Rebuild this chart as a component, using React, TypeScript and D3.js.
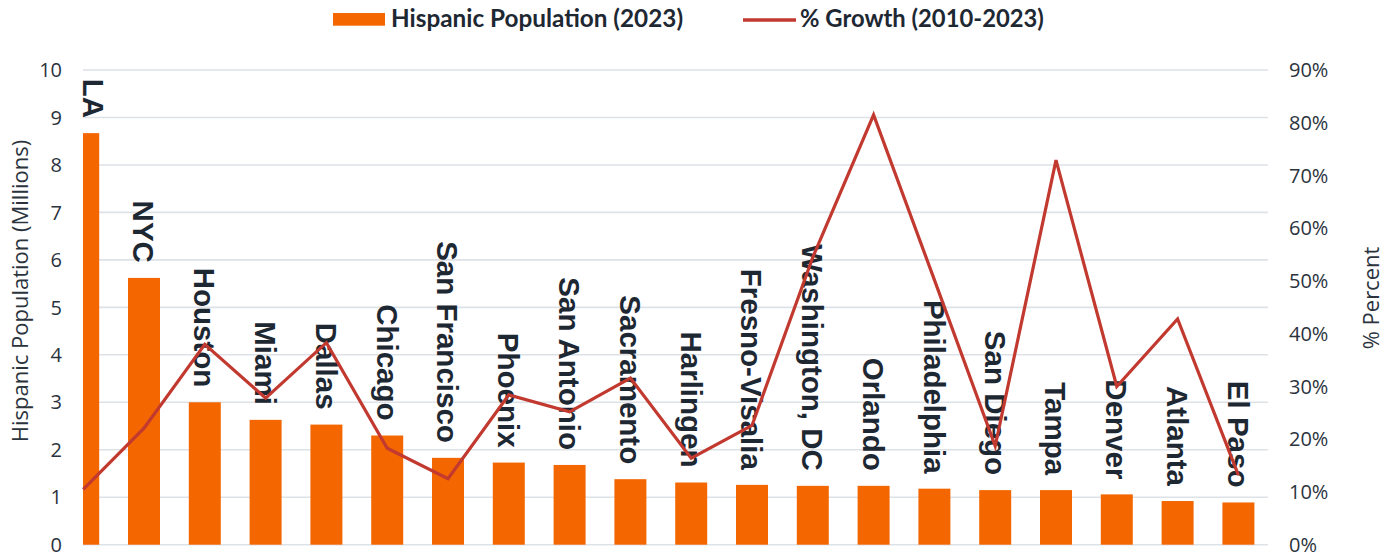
import React, { useEffect } from "react";
import * as d3 from "d3";

const cities = ["LA", "NYC", "Houston", "Miami", "Dallas", "Chicago", "San Francisco", "Phoenix", "San Antonio", "Sacramento", "Harlingen", "Fresno-Visalia", "Washington, DC", "Orlando", "Philadelphia", "San Diego", "Tampa", "Denver", "Atlanta", "El Paso"];
const population = [8.67, 5.62, 3.0, 2.63, 2.53, 2.3, 1.83, 1.73, 1.68, 1.38, 1.31, 1.26, 1.24, 1.24, 1.18, 1.15, 1.15, 1.06, 0.92, 0.89];
const growth = [10.5, 22.1, 38.0, 27.8, 38.3, 18.3, 12.5, 28.4, 25.2, 31.6, 16.4, 22.6, 54.5, 81.5, 50.2, 18.7, 72.9, 30.0, 42.8, 13.2];
const leftTicks = [0, 1, 2, 3, 4, 5, 6, 7, 8, 9, 10];
const rightTicks = [0, 10, 20, 30, 40, 50, 60, 70, 80, 90];
const legendBar = "Hispanic Population (2023)";
const legendLine = "% Growth (2010-2023)";
const leftTitle = "Hispanic Population (Millions)";
const rightTitle = "% Percent";

const W = 1397, H = 558;
const plotLeft = 83, plotRight = 1268, plotTop = 70, plotBottom = 544.7;
const ORANGE = "#f46600";
const RED = "#c1392f";
const GRID = "#dde2e7";
const TEXT = "#1e2833";
const TICK = "#2b333d";
const LABEL_SIZE = 29.5;

export default function App() {
  useEffect(() => {
    document.body.style.margin = "0";
  }, []);

  const x = d3.scaleBand<string>().domain(cities).range([52.8, 1268.8]).paddingInner(0.474).paddingOuter(0.237);
  const yL = d3.scaleLinear().domain([0, 10]).range([plotBottom, plotTop]);
  const yR = d3.scaleLinear().domain([0, 90]).range([plotBottom, plotTop]);
  const cx = (c: string) => (x(c) as number) + x.bandwidth() / 2;
  // keep rotated labels inside the plot area
  const labelX = (c: string) => Math.max(cx(c), plotLeft + LABEL_SIZE * 0.36);

  const line = d3.line<number>()
    .x((_, i) => cx(cities[i]))
    .y((d) => yR(d));

  return (
    <svg width={W} height={H} style={{ position: "absolute", left: 0, top: 0, display: "block" }}>
      <defs>
        <clipPath id="plotclip">
          <rect x={plotLeft} y={0} width={plotRight - plotLeft} height={H} />
        </clipPath>
      </defs>
      <rect width={W} height={H} fill="#fff" />
      {leftTicks.map((t) => (
        <line key={t} x1={plotLeft} x2={plotRight} y1={yL(t)} y2={yL(t)} stroke={GRID} strokeWidth={1.6} />
      ))}
      {leftTicks.map((t) => (
        <text key={t} x={62} y={yL(t)} dy="0.36em" textAnchor="end" fontFamily="Open Sans" fontSize={20} fill={TICK}>{t}</text>
      ))}
      {rightTicks.map((t) => (
        <text key={t} x={1289} y={yR(t)} dy="0.36em" textAnchor="start" fontFamily="Open Sans" fontSize={20} fill={TICK}>{t + "%"}</text>
      ))}
      <text transform={`translate(28,${291}) rotate(-90)`} textAnchor="middle" fontFamily="Open Sans" fontSize={22} fill={TICK}>{leftTitle}</text>
      <text transform={`translate(1379,${298}) rotate(-90)`} textAnchor="middle" fontFamily="Open Sans" fontSize={22} fill={TICK}>{rightTitle}</text>
      <g clipPath="url(#plotclip)">
        {cities.map((c, i) => (
          <rect key={c} x={x(c)} y={yL(population[i])} width={x.bandwidth()} height={plotBottom - yL(population[i])} fill={ORANGE} />
        ))}
      </g>
      {cities.map((c, i) => (
        <text key={c} transform={`translate(${labelX(c)},${yL(population[i]) - 15}) rotate(90)`} dy="0.36em" textAnchor="end"
          fontFamily="Liberation Sans" fontWeight="bold" fontSize={LABEL_SIZE} fill={TEXT}>{c}</text>
      ))}
      <path d={line(growth) || ""} fill="none" stroke={RED} strokeWidth={3.2} strokeLinejoin="miter" />
      <rect x={333} y={13} width={52} height={12.7} fill={ORANGE} />
      <text x={391} y={27.3} fontFamily="Lato" fontWeight="bold" fontSize={24.3} fill={TEXT}>{legendBar}</text>
      <line x1={743} x2={796} y1={20} y2={20} stroke={RED} strokeWidth={3.5} />
      <text x={800} y={27.3} fontFamily="Lato" fontWeight="bold" fontSize={23.8} fill={TEXT}>{legendLine}</text>
    </svg>
  );
}
